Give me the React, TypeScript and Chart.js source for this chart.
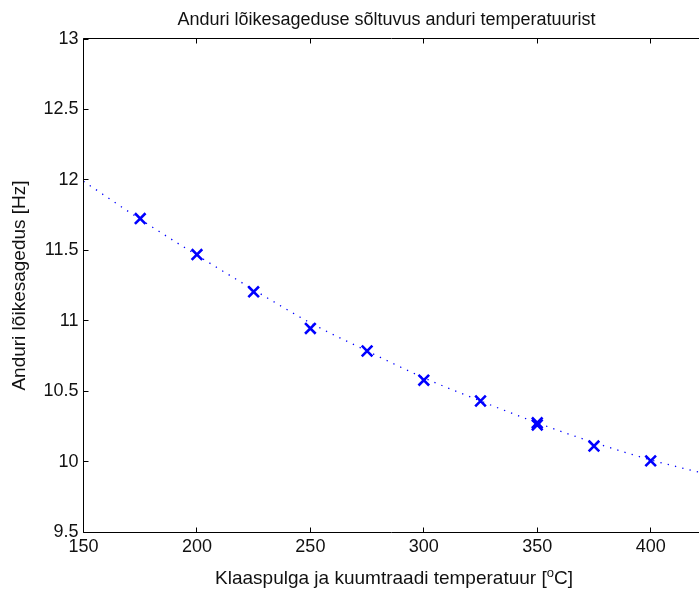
import React, { useEffect, useRef } from "react";
import { Chart, registerables } from "chart.js";

Chart.register(...registerables);

// ---- data ----
const measuredTemps = [175, 200, 225, 250, 275, 300, 325, 350, 350, 375, 400];
const measuredFreqs = [11.725, 11.47, 11.205, 10.945, 10.785, 10.578, 10.43, 10.26, 10.275, 10.11, 10.005];

const fitTemps = [150, 175, 200, 225, 250, 275, 300, 325, 350, 375, 400, 425];
const fitFreqs = [11.99, 11.72, 11.465, 11.22, 10.985, 10.785, 10.595, 10.43, 10.275, 10.135, 10.012, 9.91];

const xTicks = [150, 200, 250, 300, 350, 400];
const yTicks = [9.5, 10, 10.5, 11, 11.5, 12, 12.5, 13];
const xMin = 150;
const xMax = 421.3;
const yMin = 9.5;
const yMax = 13;

const titleText = "Anduri lõikesageduse sõltuvus anduri temperatuurist";
const xLabelMain = "Klaaspulga ja kuumtraadi temperatuur [";
const xLabelSup = "o";
const xLabelEnd = "C]";
const yLabelText = "Anduri lõikesagedus [Hz]";

const FONT = '"Liberation Sans", Arial, Helvetica, sans-serif';
const TEXT_COLOR = "#111";
const BLUE = "#0000ff";

const axesPlugin = {
  id: "matlabAxes",
  afterDraw(chart: any) {
    const { ctx, chartArea, scales } = chart;
    const l = Math.floor(chartArea.left) + 0.5;
    const r = Math.floor(chartArea.right) + 0.5;
    const t = Math.floor(chartArea.top) - 0.5;
    const b = Math.floor(chartArea.bottom) + 0.5;
    ctx.save();
    ctx.strokeStyle = "#000";
    ctx.lineWidth = 1;
    ctx.beginPath();
    ctx.moveTo(r, t);
    ctx.lineTo(l, t);
    ctx.lineTo(l, b);
    ctx.lineTo(r, b);
    ctx.stroke();
    const tl = 5;
    ctx.beginPath();
    for (const v of xTicks) {
      const px = Math.floor(scales.x.getPixelForValue(v)) + 0.5;
      ctx.moveTo(px, b);
      ctx.lineTo(px, b - tl);
      ctx.moveTo(px, t);
      ctx.lineTo(px, t + tl);
    }
    for (const v of yTicks) {
      const py = Math.floor(scales.y.getPixelForValue(v)) + 0.5;
      ctx.moveTo(l, py);
      ctx.lineTo(l + tl, py);
    }
    ctx.stroke();

    ctx.fillStyle = TEXT_COLOR;

    // title
    ctx.font = `18px ${FONT}`;
    ctx.textAlign = "center";
    ctx.textBaseline = "alphabetic";
    ctx.fillText(titleText, 386.5, 25);

    // x axis title with superscript
    ctx.font = `19px ${FONT}`;
    const mainW = ctx.measureText(xLabelMain).width;
    const endW = ctx.measureText(xLabelEnd).width;
    ctx.font = `13px ${FONT}`;
    const supW = ctx.measureText(xLabelSup).width;
    const total = mainW + supW + endW;
    let x = 394 - total / 2;
    const baseY = 584;
    ctx.textAlign = "left";
    ctx.font = `19px ${FONT}`;
    ctx.fillText(xLabelMain, x, baseY);
    x += mainW;
    ctx.font = `13px ${FONT}`;
    ctx.fillText(xLabelSup, x, baseY - 7);
    x += supW;
    ctx.font = `19px ${FONT}`;
    ctx.fillText(xLabelEnd, x, baseY);

    // y axis title
    ctx.translate(20, (chartArea.top + chartArea.bottom) / 2);
    ctx.rotate(-Math.PI / 2);
    ctx.textAlign = "center";
    ctx.textBaseline = "middle";
    ctx.font = `19px ${FONT}`;
    ctx.fillText(yLabelText, 0, 0);
    ctx.restore();
  },
};

export default function App() {
  const canvasRef = useRef<HTMLCanvasElement | null>(null);

  useEffect(() => {
    if (!canvasRef.current) return;
    const chart = new Chart(canvasRef.current, {
      type: "scatter",
      data: {
        datasets: [
          {
            label: "measured",
            data: measuredTemps.map((t, i) => ({ x: t, y: measuredFreqs[i] })),
            showLine: false,
            pointStyle: "crossRot",
            pointRadius: 7.5,
            pointBorderWidth: 2.6,
            borderColor: BLUE,
            backgroundColor: BLUE,
            order: 0,
          },
          {
            label: "fit",
            data: fitTemps.map((t, i) => ({ x: t, y: fitFreqs[i] })),
            showLine: true,
            pointRadius: 0,
            borderColor: BLUE,
            borderWidth: 1.3,
            borderDash: [1.3, 6.2],
            cubicInterpolationMode: "monotone",
            order: 1,
          },
        ],
      },
      options: {
        responsive: false,
        animation: false,
        layout: { padding: { top: 39, left: 0, right: 0, bottom: 0 }, autoPadding: false },
        plugins: {
          legend: { display: false },
          tooltip: { enabled: false },
          title: { display: false },
        },
        scales: {
          x: {
            type: "linear",
            min: xMin,
            max: xMax,
            grid: { display: false, drawTicks: false },
            border: { display: false },
            afterBuildTicks: (scale: any) => {
              scale.ticks = xTicks.map((value) => ({ value }));
            },
            afterFit: (scale: any) => {
              scale.height = 60;
              scale.paddingLeft = 0;
              scale.paddingRight = 0;
            },
            ticks: {
              color: TEXT_COLOR,
              font: { family: FONT, size: 18 },
              padding: 4,
              maxRotation: 0,
              autoSkip: false,
              callback: (v: any) => String(v),
            },
          },
          y: {
            type: "linear",
            min: yMin,
            max: yMax,
            grid: { display: false, drawTicks: false },
            border: { display: false },
            afterBuildTicks: (scale: any) => {
              scale.ticks = yTicks.map((value) => ({ value }));
            },
            afterFit: (scale: any) => {
              scale.width = 83.5;
              scale.paddingTop = 0;
              scale.paddingBottom = 0;
            },
            ticks: {
              color: TEXT_COLOR,
              font: { family: FONT, size: 18 },
              padding: 5,
              autoSkip: false,
              callback: (v: any) => String(v),
            },
          },
        },
      },
      plugins: [axesPlugin],
    });
    return () => chart.destroy();
  }, []);

  return (
    <div style={{ position: "absolute", left: 0, top: 0, width: 699, height: 592, background: "#fff" }}>
      <canvas ref={canvasRef} width={699} height={592} style={{ display: "block" }} />
    </div>
  );
}
